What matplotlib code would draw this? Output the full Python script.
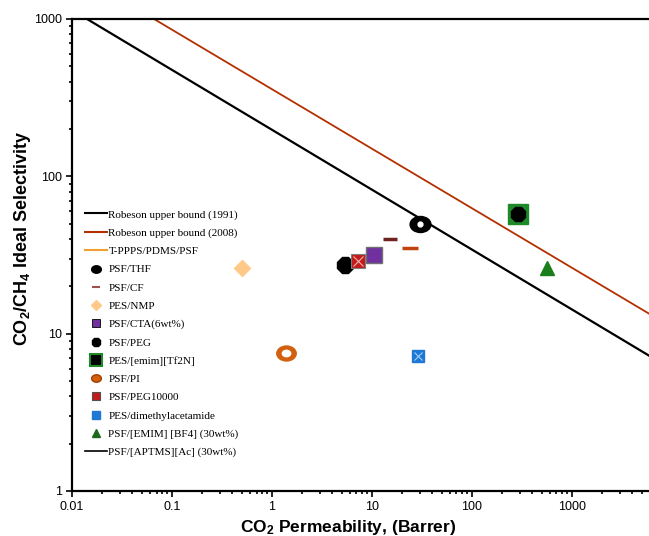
import matplotlib.pyplot as plt
import numpy as np
from matplotlib.lines import Line2D
from matplotlib.path import Path
from matplotlib.transforms import Affine2D

plt.rcParams["mathtext.default"] = "regular"

# upper bound lines (end points)
rob1991_x = [0.0141, 5900]
rob1991_y = [1000, 7.25]
rob2008_x = [0.066, 5900]
rob2008_y = [1000, 13.4]

# membranes: name -> (CO2 permeability, CO2/CH4 selectivity)
names = ["PSF/THF", "PSF/CF", "T-PPPS/PDMS/PSF", "PES/NMP", "PSF/CTA(6wt%)", "PSF/PEG",
         "PES/[emim][Tf2N]", "PSF/PI", "PSF/PEG10000", "PES/dimethylacetamide",
         "PSF/[EMIM] [BF4] (30wt%)"]
perm = [30, 15, 24, 0.5, 10.5, 5.4, 290, 1.38, 7.2, 29, 560]
sel = [50, 40, 35, 26, 31.4, 27.5, 58, 7.5, 28.8, 7.2, 26]

legend_labels = ["Robeson upper bound (1991)", "Robeson upper bound (2008)", "T-PPPS/PDMS/PSF",
                 "PSF/THF", "PSF/CF", "PES/NMP", "PSF/CTA(6wt%)", "PSF/PEG", "PES/[emim][Tf2N]",
                 "PSF/PI", "PSF/PEG10000", "PES/dimethylacetamide", "PSF/[EMIM] [BF4] (30wt%)",
                 "PSF/[APTMS][Ac] (30wt%)"]

ellipse = Path.unit_circle().transformed(Affine2D().scale(1.3, 1.0))

fig = plt.figure(figsize=(6.49, 5.36), dpi=100)
ax = fig.add_axes([0.111, 0.084, 0.889, 0.8806])
ax.set_xscale("log")
ax.set_yscale("log")
ax.set_xlim(0.01, 5900)
ax.set_ylim(1, 1000)

ax.plot(rob1991_x, rob1991_y, color="black", lw=1.6)
ax.plot(rob2008_x, rob2008_y, color="#B33000", lw=1.3)

d = dict(zip(names, zip(perm, sel)))

def pt(name, **kw):
    x, y = d[name]
    ax.plot([x], [y], linestyle="none", **kw)

pt("PSF/THF", marker=ellipse, ms=15, color="black")
pt("PSF/THF", marker="o", ms=3.5, color="white", mec="white")
pt("PSF/CF", marker="_", ms=10, mew=2.5, color="#6E2222")
pt("T-PPPS/PDMS/PSF", marker="_", ms=11, mew=2.5, color="#C2420E")
pt("PES/NMP", marker="D", ms=8, color="#FFC98A", mec="#FFC98A")
pt("PSF/CTA(6wt%)", marker="s", ms=11, color="#7030A0", mec="#707070", mew=1)
pt("PSF/PEG", marker="8", ms=13, color="black")
pt("PES/[emim][Tf2N]", marker="s", ms=15, color="#1E8A2A", mec="#1E8A2A")
pt("PES/[emim][Tf2N]", marker="8", ms=11, color="black")
pt("PSF/PI", marker=ellipse, ms=14, color="#D2600F")
pt("PSF/PI", marker=ellipse, ms=6, color="white", mec="white")
pt("PSF/PEG10000", marker="s", ms=10, color="#C41A1A", mec="#808080", mew=0.8)
pt("PSF/PEG10000", marker="x", ms=7, color="#F0B0B0", mew=0.8)
pt("PES/dimethylacetamide", marker="s", ms=9, color="#1F78D4", mec="#1F78D4")
pt("PES/dimethylacetamide", marker="x", ms=6, color="#9FD0FF", mew=0.8)
pt("PSF/[EMIM] [BF4] (30wt%)", marker="^", ms=10, color="#1A7F1A", mec="#1A7F1A")

handles = [
    Line2D([], [], color="black", lw=1.5),
    Line2D([], [], color="#B33000", lw=1.5),
    Line2D([], [], color="#F0A030", lw=1.5),
    Line2D([], [], ls="none", marker=ellipse, ms=7, color="black"),
    Line2D([], [], ls="none", marker="_", ms=6, mew=1.5, color="#A05050"),
    Line2D([], [], ls="none", marker="D", ms=5, color="#FFC98A", mec="#FFC98A"),
    Line2D([], [], ls="none", marker="s", ms=6, color="#7030A0", mec="black", mew=0.6),
    Line2D([], [], ls="none", marker="8", ms=7, color="black"),
    Line2D([], [], ls="none", marker="s", ms=8, color="black", mec="#1E8A2A", mew=1.5),
    Line2D([], [], ls="none", marker=ellipse, ms=7, color="#D2600F", mec="#A04000"),
    Line2D([], [], ls="none", marker="s", ms=6, color="#C41A1A", mec="#505050", mew=0.8),
    Line2D([], [], ls="none", marker="s", ms=6, color="#1F78D4", mec="#1F78D4"),
    Line2D([], [], ls="none", marker="^", ms=6, color="#1A6A1A", mec="#1A6A1A"),
    Line2D([], [], color="black", lw=1.2),
]
ax.legend(handles, legend_labels, loc="upper left", bbox_to_anchor=(0.012, 0.608),
          frameon=False, prop={"family": "Liberation Serif", "size": 8},
          handlelength=2.0, handletextpad=0.15, labelspacing=0.76, borderpad=0)

ax.set_xticks([0.01, 0.1, 1, 10, 100, 1000])
ax.set_xticklabels(["0.01", "0.1", "1", "10", "100", "1000"])
ax.set_yticks([1, 10, 100, 1000])
ax.set_yticklabels(["1", "10", "100", "1000"])
ax.tick_params(which="both", direction="out", labelsize=9, width=1.2)
ax.tick_params(which="major", length=4)
ax.tick_params(which="minor", length=2.5)
for lab in ax.get_xticklabels() + ax.get_yticklabels():
    lab.set_family("Liberation Sans")

for s in ["left", "bottom", "top"]:
    ax.spines[s].set_linewidth(1.6)
ax.spines["right"].set_visible(False)

ax.set_xlabel("CO$_2$ Permeability, (Barrer)", fontsize=12.5, fontweight="bold",
              family="Liberation Sans")
ax.set_ylabel("CO$_2$/CH$_4$ Ideal Selectivity", fontsize=13, fontweight="bold",
              family="Liberation Sans")
ax.xaxis.set_label_coords(0.478, -0.058)
ax.yaxis.set_label_coords(-0.068, 0.535)

fig.savefig("out.png", dpi=100)
